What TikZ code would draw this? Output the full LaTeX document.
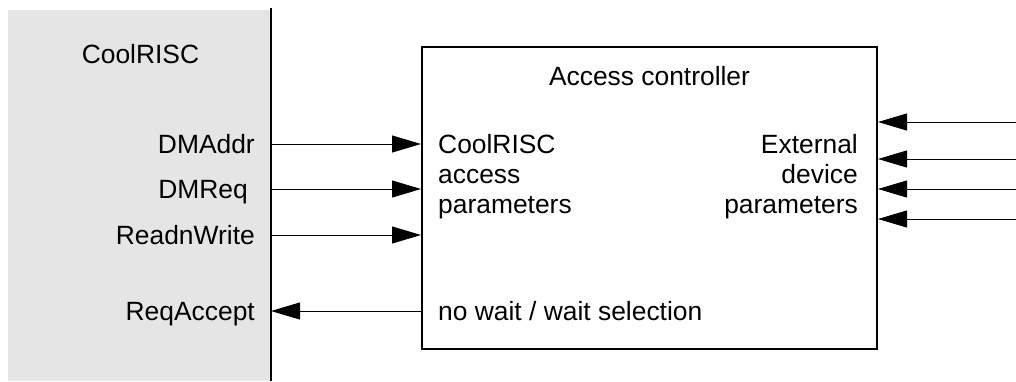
\documentclass[tikz,border=0pt]{standalone}
\usepackage{fontspec}
\setmainfont{Liberation Sans}
\usetikzlibrary{arrows.meta}
\definecolor{cgray}{RGB}{229,229,229}
\tikzset{
  lbl/.style={inner sep=0pt, font=\fontsize{26.4}{30}\selectfont},
  sig/.style={line width=1pt, -{Triangle[length=29pt,width=17pt]}},
  thick box/.style={draw, line width=2pt, inner sep=0pt}
}
\begin{document}
\begin{tikzpicture}[x=1pt,y=-1pt]
\useasboundingbox (0,0) rectangle (1016,381);
% CoolRISC side
\node[fill=cgray, inner sep=0pt, minimum width=262pt, minimum height=371pt, anchor=north west] (cr) at (8,10) {};
\coordinate (vt) at (271,8);
\coordinate (vb) at (271,381);
\draw[line width=2pt] (vt) -- (vb);
\node[lbl, anchor=base] (crt) at (140.5,63) {CoolRISC};
% Access controller box
\node[thick box, minimum width=455pt, minimum height=302pt, anchor=north west] (ac) at (421,46) {};
\node[lbl, anchor=base] (act) at (ac.north |- 0,85) {Access controller};
% left signals
\coordinate (l1) at (271,144);
\coordinate (l2) at (271,189);
\coordinate (l3) at (271,235);
\coordinate (l4) at (271,311);
\node[lbl, anchor=base east] (n1) at (255,153) {DMAddr};
\node[lbl, anchor=base east] (n2) at (248,198) {DMReq};
\node[lbl, anchor=base east] (n3) at (255,244) {ReadnWrite};
\node[lbl, anchor=base east] (n4) at (255,320) {ReqAccept};
\draw[sig] (l1) -- (l1 -| ac.west);
\draw[sig] (l2) -- (l2 -| ac.west);
\draw[sig] (l3) -- (l3 -| ac.west);
\draw[sig] (l4 -| ac.west) -- (l4);
% inner texts
\node[lbl, align=left, anchor=north west] (cap) at (438,134.2) {CoolRISC\\access\\parameters};
\node[lbl, align=right, anchor=north east] (edp) at (858,134.2) {External\\device\\parameters};
\node[lbl, anchor=base west] (nw) at (438,320) {no wait / wait selection};
% right signals
\coordinate (r1) at (1016,122);
\coordinate (r2) at (1016,159);
\coordinate (r3) at (1016,189);
\coordinate (r4) at (1016,219);
\draw[sig] (r1) -- (r1 -| ac.east);
\draw[sig] (r2) -- (r2 -| ac.east);
\draw[sig] (r3) -- (r3 -| ac.east);
\draw[sig] (r4) -- (r4 -| ac.east);
\end{tikzpicture}
\end{document}
